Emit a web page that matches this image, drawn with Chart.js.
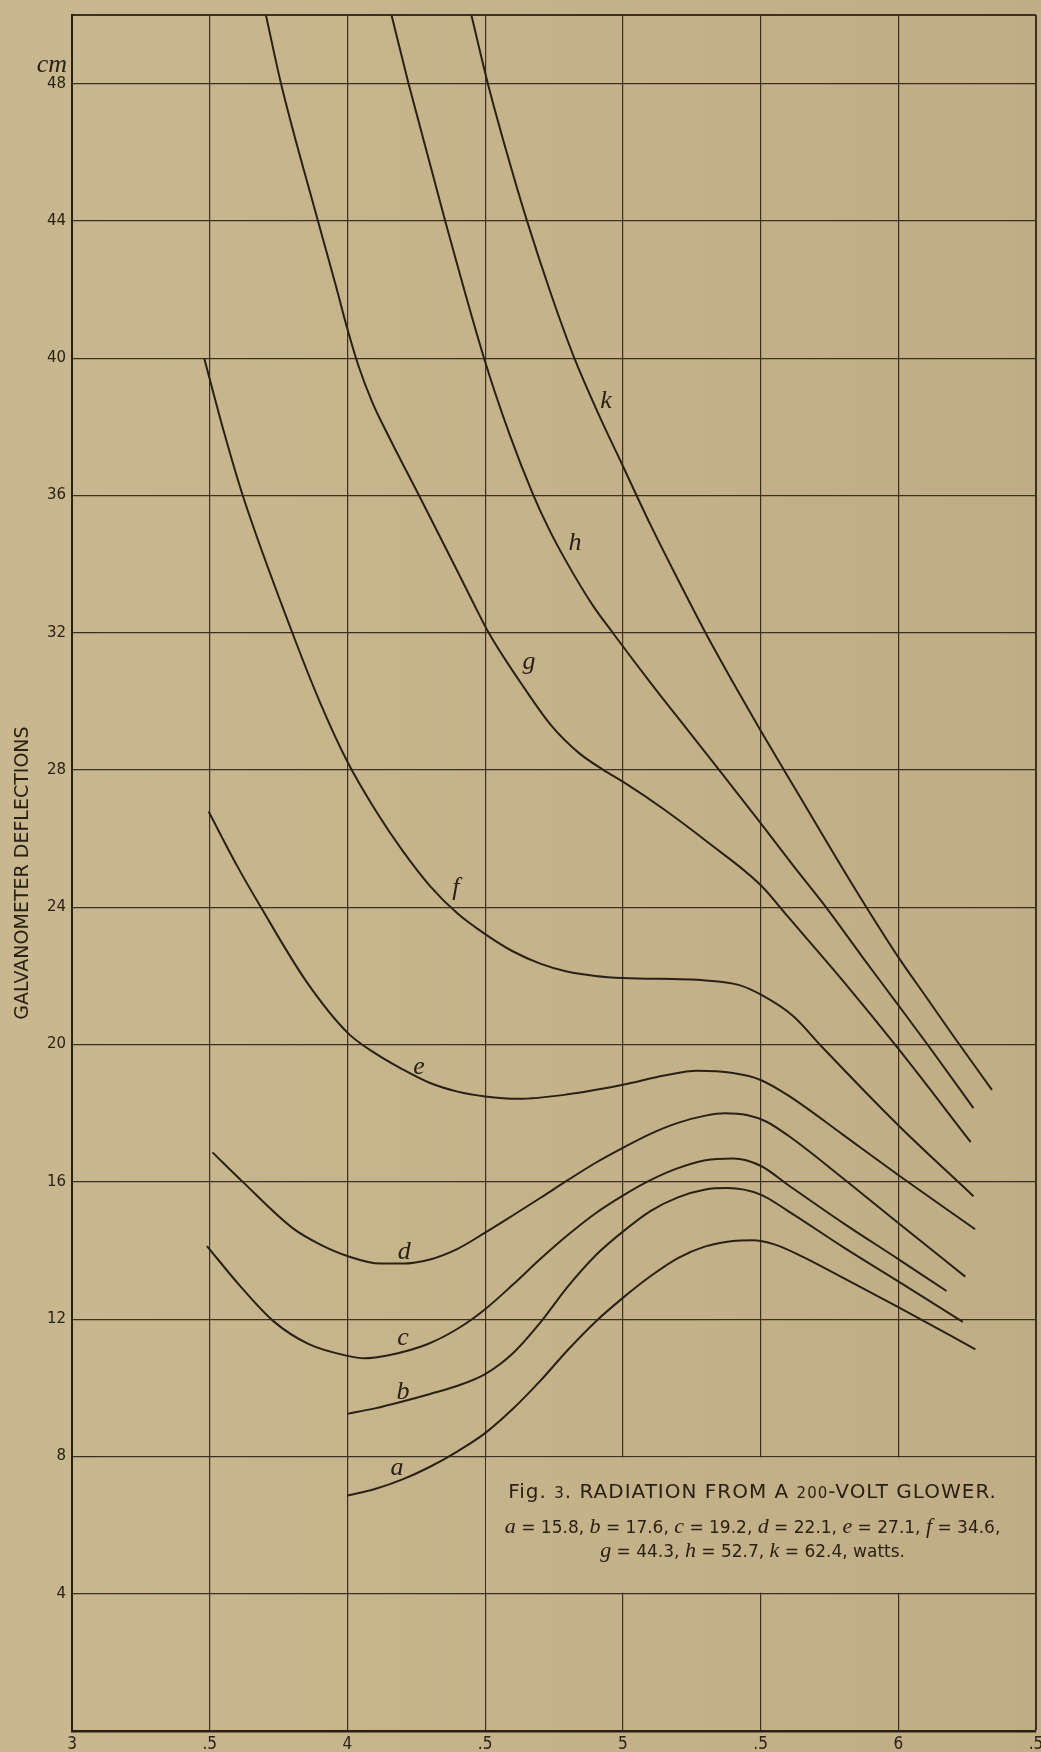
<!DOCTYPE html>
<html>
<head>
<meta charset="utf-8">
<title>Radiation from a 200-volt glower</title>
<script src="https://cdn.jsdelivr.net/npm/chart.js@4"></script>
<style>
  html, body { margin: 0; padding: 0; background: #c6b48b; }
  #wrap { width: 1041px; height: 1752px; }
</style>
</head>
<body>
<div id="wrap"><canvas id="chart" width="1041" height="1752"></canvas></div>
<script>
// Axis ticks
const xTicks = [3, 3.5, 4, 4.5, 5, 5.5, 6, 6.5];
const xTickLabels = ['3', '.5', '4', '.5', '5', '.5', '6', '.5'];
const yTicks = [4, 8, 12, 16, 20, 24, 28, 32, 36, 40, 44, 48];

// Curve letters and the wattage of each run
const curveNames = ['a', 'b', 'c', 'd', 'e', 'f', 'g', 'h', 'k'];
const wattages = [15.8, 17.6, 19.2, 22.1, 27.1, 34.6, 44.3, 52.7, 62.4];

// Galvanometer deflection (cm) against abscissa, one list per run
const curveA = [[4.00, 6.86], [4.10, 7.05], [4.20, 7.33], [4.30, 7.70], [4.40, 8.15], [4.50, 8.68],
  [4.60, 9.38], [4.70, 10.20], [4.80, 11.10], [4.90, 11.92], [5.00, 12.62], [5.10, 13.25],
  [5.20, 13.78], [5.30, 14.12], [5.40, 14.28], [5.47, 14.30], [5.55, 14.18], [5.65, 13.83],
  [5.80, 13.20], [6.00, 12.35], [6.28, 11.12]];
const curveB = [[4.00, 9.24], [4.10, 9.40], [4.20, 9.60], [4.30, 9.82], [4.40, 10.06], [4.50, 10.40],
  [4.60, 11.00], [4.70, 11.90], [4.80, 12.95], [4.90, 13.85], [5.00, 14.55], [5.10, 15.15],
  [5.20, 15.55], [5.30, 15.78], [5.38, 15.82], [5.50, 15.63], [5.60, 15.15], [5.80, 14.10],
  [6.00, 13.10], [6.234, 11.92]];
const curveC = [[3.49, 14.13], [3.61, 12.97], [3.73, 11.95], [3.86, 11.27], [4.00, 10.93], [4.06, 10.86],
  [4.15, 10.95], [4.29, 11.27], [4.40, 11.72], [4.50, 12.29], [4.60, 13.00], [4.70, 13.75],
  [4.80, 14.45], [4.90, 15.08], [5.00, 15.60], [5.10, 16.05], [5.20, 16.40], [5.30, 16.63],
  [5.40, 16.68], [5.50, 16.47], [5.60, 15.91], [5.80, 14.80], [6.00, 13.75], [6.175, 12.82]];
const curveD = [[3.51, 16.86], [3.62, 16.00], [3.80, 14.66], [3.90, 14.18], [4.00, 13.84], [4.12, 13.62],
  [4.20, 13.62], [4.30, 13.74], [4.40, 14.05], [4.50, 14.52], [4.60, 15.02], [4.70, 15.53],
  [4.80, 16.05], [4.90, 16.55], [5.00, 16.99], [5.10, 17.40], [5.20, 17.72], [5.30, 17.93],
  [5.37, 18.00], [5.45, 17.95], [5.52, 17.76], [5.60, 17.35], [5.80, 16.10], [6.00, 14.80],
  [6.243, 13.24]];
const curveE = [[3.496, 26.79], [3.60, 25.20], [3.686, 24.00], [3.85, 21.85], [4.00, 20.35], [4.10, 19.75],
  [4.20, 19.28], [4.30, 18.88], [4.40, 18.63], [4.50, 18.49], [4.62, 18.42], [4.80, 18.55],
  [5.00, 18.83], [5.15, 19.10], [5.27, 19.24], [5.40, 19.17], [5.50, 18.97], [5.60, 18.52],
  [5.80, 17.37], [6.00, 16.20], [6.279, 14.62]];
const curveF = [[3.48, 40.00], [3.55, 37.90], [3.62, 36.00], [3.80, 32.00], [3.90, 29.98], [4.00, 28.24],
  [4.10, 26.85], [4.20, 25.65], [4.30, 24.62], [4.40, 23.82], [4.50, 23.22], [4.60, 22.72],
  [4.70, 22.36], [4.80, 22.12], [4.90, 22.00], [5.00, 21.94], [5.30, 21.87], [5.42, 21.74],
  [5.50, 21.46], [5.62, 20.82], [5.72, 19.96], [6.00, 17.65], [6.273, 15.58]];
const curveG = [[3.704, 50.00], [3.759, 48.00], [3.893, 44.00], [3.96, 42.05], [4.00, 40.85], [4.04, 39.78],
  [4.09, 38.72], [4.15, 37.72], [4.26, 36.00], [4.36, 34.42], [4.454, 32.92], [4.513, 32.00],
  [4.654, 30.25], [4.742, 29.28], [4.84, 28.50], [4.93, 28.00], [5.00, 27.66], [5.15, 26.85],
  [5.306, 25.91], [5.50, 24.65], [5.60, 23.72], [5.80, 21.85], [6.00, 19.88], [6.263, 17.16]];
const curveH = [[4.16, 50.00], [4.222, 48.00], [4.355, 44.00], [4.496, 40.00], [4.59, 37.75], [4.673, 36.05],
  [4.73, 35.05], [4.80, 34.00], [4.889, 32.82], [4.968, 31.95], [5.10, 30.55], [5.23, 29.22],
  [5.35, 28.00], [5.496, 26.50], [5.62, 25.20], [5.738, 24.00], [5.87, 22.55], [6.00, 21.15],
  [6.12, 19.85], [6.273, 18.15]];
const curveK = [[4.45, 50.00], [4.51, 48.00], [4.58, 45.95], [4.652, 44.00], [4.74, 41.85], [4.824, 40.00],
  [4.91, 38.40], [5.00, 36.86], [5.10, 35.15], [5.20, 33.55], [5.30, 32.00], [5.40, 30.55],
  [5.50, 29.15], [5.60, 27.80], [5.70, 26.45], [5.80, 25.10], [5.90, 23.80], [6.00, 22.55],
  [6.10, 21.40], [6.20, 20.25], [6.34, 18.68]];

// Where each curve letter sits (baseline centre, data units)
const labelX = [4.18, 4.202, 4.202, 4.206, 4.26, 4.394, 4.659, 4.826, 4.939];
const labelY = [7.47, 9.66, 11.26, 13.76, 19.15, 24.37, 30.95, 34.41, 38.54];

// Caption panel corners (data units)
const panelX = [4.5, 6.5];
const panelY = [4, 8];

const curves = [curveA, curveB, curveC, curveD, curveE, curveF, curveG, curveH, curveK];

const INK = '#2a2115';
const GRID = '#3b3022';
const SANS = "'DejaVu Sans', 'Liberation Sans', sans-serif";
const SERIF_IT = "italic 400 {s}px 'Liberation Serif', 'DejaVu Serif', serif";

function paperFill(ctx, w) {
  const g = ctx.createLinearGradient(0, 0, w, 0);
  g.addColorStop(0, '#c9b88f');
  g.addColorStop(1, '#c1ad85');
  return g;
}

const paperPlugin = {
  id: 'paper',
  beforeDraw(chart) {
    const ctx = chart.ctx;
    ctx.save();
    ctx.fillStyle = paperFill(ctx, chart.width);
    ctx.fillRect(0, 0, chart.width, chart.height);
    ctx.restore();
  }
};

function drawRuns(ctx, runs, cx, baseline) {
  let total = 0;
  runs.forEach(r => {
    ctx.font = r.font;
    ctx.letterSpacing = r.ls || '0px';
    r.w = ctx.measureText(r.t).width;
    total += r.w;
  });
  let x = cx - total / 2;
  runs.forEach(r => {
    ctx.font = r.font;
    ctx.letterSpacing = r.ls || '0px';
    ctx.fillText(r.t, x, baseline);
    x += r.w;
  });
  ctx.letterSpacing = '0px';
}

const panelPlugin = {
  id: 'captionPanel',
  beforeDatasetsDraw(chart) {
    const { ctx, scales: { x, y } } = chart;
    const l = x.getPixelForValue(panelX[0]);
    const r = x.getPixelForValue(panelX[1]);
    const t = y.getPixelForValue(panelY[1]);
    const b = y.getPixelForValue(panelY[0]);
    ctx.save();
    ctx.fillStyle = paperFill(ctx, chart.width);
    ctx.fillRect(l + 1, t + 1, r - l - 2, b - t - 2);
    ctx.restore();
  },
  afterDatasetsDraw(chart) {
    const { ctx, scales: { x, y } } = chart;
    const l = x.getPixelForValue(panelX[0]);
    const r = x.getPixelForValue(panelX[1]);
    const t = y.getPixelForValue(panelY[1]);
    const cx = (l + r) / 2 - 8;
    const capSans = '20px ' + SANS;
    const capSmall = '15px ' + SANS;
    const numFont = '17px ' + SANS;
    const letFont = SERIF_IT.replace('{s}', 22);
    ctx.save();
    ctx.fillStyle = INK;
    ctx.textBaseline = 'alphabetic';
    drawRuns(ctx, [
      { t: 'Fig. ', font: capSans, ls: '1px' },
      { t: '3', font: capSmall, ls: '1px' },
      { t: '. RADIATION FROM A ', font: capSans, ls: '1px' },
      { t: '200', font: capSmall, ls: '1px' },
      { t: '-VOLT GLOWER.', font: capSans, ls: '1px' }
    ], cx, t + 42);

    const item = (i, last) => [
      { t: curveNames[i], font: letFont },
      { t: ' = ' + wattages[i].toFixed(1) + (last ? ',' : ', '), font: numFont }
    ];
    let row2 = [];
    for (let i = 0; i < 6; i++) row2 = row2.concat(item(i, i === 5));
    drawRuns(ctx, row2, cx, t + 77);

    let row3 = [];
    for (let i = 6; i < 9; i++) row3 = row3.concat(item(i, false));
    row3.push({ t: 'watts.', font: numFont });
    drawRuns(ctx, row3, cx, t + 101);
    ctx.restore();
  }
};

const letterPlugin = {
  id: 'curveLetters',
  afterDatasetsDraw(chart) {
    const { ctx, scales: { x, y } } = chart;
    ctx.save();
    ctx.fillStyle = INK;
    ctx.font = SERIF_IT.replace('{s}', 26);
    ctx.textAlign = 'center';
    ctx.textBaseline = 'alphabetic';
    curveNames.forEach((n, i) => {
      ctx.fillText(n, x.getPixelForValue(labelX[i]), y.getPixelForValue(labelY[i]));
    });
    // unit mark above the top tick label
    ctx.textAlign = 'right';
    ctx.fillText('cm', x.left - 5, y.getPixelForValue(48) - 12);
    ctx.restore();
  }
};

new Chart(document.getElementById('chart'), {
  type: 'scatter',
  data: {
    datasets: curves.map((c, i) => ({
      label: curveNames[i],
      data: c.map(p => ({ x: p[0], y: p[1] })),
      showLine: true,
      borderColor: INK,
      borderWidth: 2,
      pointRadius: 0,
      pointHoverRadius: 0,
      fill: false,
      cubicInterpolationMode: 'monotone'
    }))
  },
  options: {
    responsive: false,
    devicePixelRatio: 1,
    animation: false,
    events: [],
    layout: { padding: { left: 0, right: 5, top: 12, bottom: 0 } },
    plugins: {
      legend: { display: false },
      tooltip: { enabled: false },
      title: { display: false }
    },
    scales: {
      x: {
        type: 'linear',
        min: 3,
        max: 6.5,
        ticks: {
          stepSize: 0.5,
          autoSkip: false,
          maxRotation: 0,
          padding: 3,
          color: INK,
          font: { family: "'DejaVu Sans Condensed', 'DejaVu Sans', sans-serif", size: 17 },
          callback: v => {
            const i = xTicks.findIndex(t => Math.abs(t - v) < 1e-6);
            return i < 0 ? '' : xTickLabels[i];
          }
        },
        grid: {
          color: GRID,
          lineWidth: c => (c.tick && Math.abs(c.tick.value - 6.5) < 1e-6) ? 2 : 1.2,
          drawTicks: false
        },
        border: { display: true, color: INK, width: 2.5 },
        afterFit: s => { s.height = 21; s.paddingLeft = 0; s.paddingRight = 0; }
      },
      y: {
        min: 0,
        max: 50,
        ticks: {
          stepSize: 4,
          padding: 6,
          color: INK,
          font: { family: SANS, size: 15 },
          callback: v => yTicks.includes(v) ? String(v) : ''
        },
        grid: {
          color: GRID,
          lineWidth: c => (c.tick && c.tick.value === 50) ? 2 : 1.2,
          drawTicks: false
        },
        border: { display: true, color: INK, width: 2 },
        title: {
          display: true,
          text: 'GALVANOMETER DEFLECTIONS',
          color: INK,
          font: { family: SANS, size: 19 },
          padding: { top: 12, bottom: 0 }
        },
        afterFit: s => { s.width = 72; }
      }
    }
  },
  plugins: [paperPlugin, panelPlugin, letterPlugin]
});
</script>
</body>
</html>
